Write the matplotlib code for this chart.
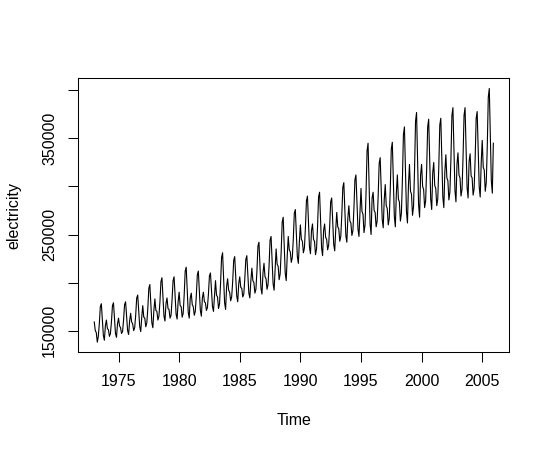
import numpy as np
import matplotlib
matplotlib.use("Agg")
import matplotlib.pyplot as plt

plt.rcParams['font.family'] = ['Liberation Sans', 'DejaVu Sans']

start_year = 1973
# monthly electricity values (thousands), one row per year, Jan..Dec
electricity_k = [
    [159, 150, 148, 138, 144, 157, 175, 178, 161, 145, 140, 155],  # 1973
    [161, 152, 151, 144, 147, 159, 176, 179, 163, 147, 143, 157],  # 1974
    [163, 155, 153, 147, 149, 161, 177, 180, 165, 150, 146, 160],  # 1975
    [168, 159, 157, 150, 153, 166, 184, 187, 170, 154, 149, 164],  # 1976
    [176, 164, 163, 154, 158, 173, 194, 198, 178, 158, 153, 171],  # 1977
    [183, 171, 170, 161, 165, 180, 201, 205, 185, 165, 160, 178],  # 1978
    [184, 173, 172, 163, 166, 182, 202, 206, 186, 167, 162, 180],  # 1979
    [190, 176, 175, 164, 168, 187, 212, 216, 192, 169, 163, 184],  # 1980
    [189, 177, 175, 166, 170, 186, 208, 212, 191, 171, 165, 184],  # 1981
    [190, 180, 179, 171, 174, 188, 207, 210, 192, 175, 170, 186],  # 1982
    [202, 187, 185, 173, 178, 199, 226, 231, 204, 179, 172, 196],  # 1983
    [204, 192, 190, 181, 185, 201, 223, 227, 206, 186, 180, 199],  # 1984
    [206, 195, 194, 185, 188, 204, 224, 228, 208, 189, 184, 202],  # 1985
    [215, 202, 200, 189, 193, 212, 238, 242, 218, 194, 188, 210],  # 1986
    [220, 206, 204, 193, 198, 217, 244, 248, 223, 199, 192, 214],  # 1987
    [235, 219, 217, 203, 209, 232, 263, 268, 238, 210, 202, 228],  # 1988
    [248, 234, 232, 221, 226, 245, 272, 276, 251, 227, 220, 242],  # 1989
    [260, 245, 243, 231, 236, 257, 285, 290, 263, 237, 230, 254],  # 1990
    [261, 245, 243, 229, 235, 258, 289, 294, 264, 236, 228, 254],  # 1991
    [261, 247, 245, 234, 239, 258, 284, 288, 263, 240, 233, 255],  # 1992
    [273, 258, 256, 243, 248, 270, 299, 304, 276, 249, 242, 267],  # 1993
    [280, 264, 262, 249, 254, 277, 307, 312, 283, 256, 248, 274],  # 1994
    [298, 274, 271, 252, 260, 293, 337, 345, 302, 261, 250, 288],  # 1995
    [294, 275, 273, 258, 264, 290, 324, 330, 297, 266, 257, 286],  # 1996
    [302, 280, 277, 260, 267, 298, 339, 346, 306, 269, 258, 293],  # 1997
    [312, 287, 284, 264, 272, 307, 354, 362, 317, 274, 262, 302],  # 1998
    [323, 295, 292, 270, 279, 317, 368, 377, 328, 281, 268, 312],  # 1999
    [323, 300, 297, 278, 285, 318, 362, 370, 328, 287, 276, 314],  # 2000
    [325, 301, 298, 280, 287, 320, 364, 371, 329, 289, 278, 315],  # 2001
    [333, 309, 306, 286, 294, 328, 374, 382, 338, 296, 284, 323],  # 2002
    [335, 312, 309, 290, 297, 330, 374, 382, 340, 299, 288, 326],  # 2003
    [334, 311, 309, 291, 298, 329, 371, 378, 338, 300, 289, 325],  # 2004
    [348, 320, 317, 295, 304, 342, 393, 402, 353, 306, 293, 345],  # 2005
]

x_ticks = [1975, 1980, 1985, 1990, 1995, 2000, 2005]
y_ticks = [150000, 200000, 250000, 300000, 350000, 400000]
y_labels = ['150000', '', '250000', '', '350000', '']

values = np.array(electricity_k, dtype=float).ravel() * 1000
t = start_year + np.arange(len(values)) / 12.0

fig = plt.figure(figsize=(5.5, 4.5), dpi=100)
ax = fig.add_axes([78.3 / 550, (450 - 352.3) / 450, 431 / 550, 274 / 450])
ax.plot(t, values, color='black', linewidth=0.8)

# R style: 4% padding around the data range
xr = t.max() - t.min()
yr = values.max() - values.min()
ax.set_xlim(t.min() - 0.04 * xr, t.max() + 0.04 * xr)
ax.set_ylim(values.min() - 0.04 * yr, values.max() + 0.04 * yr)

ax.set_xticks(x_ticks)
ax.set_xticklabels([str(v) for v in x_ticks])
ax.set_yticks(y_ticks)
ax.set_yticklabels(y_labels, rotation=90, va='center')

for s in ax.spines.values():
    s.set_linewidth(0.75)
ax.tick_params(direction='out', length=7.2, width=0.75, labelsize=11.5)
ax.tick_params(axis='x', pad=8.5)
ax.tick_params(axis='y', pad=8)

ax.set_xlabel('Time', fontsize=11.5, labelpad=17)
ax.set_ylabel('electricity', fontsize=11.5, labelpad=15)

fig.savefig('out.png', dpi=100)
